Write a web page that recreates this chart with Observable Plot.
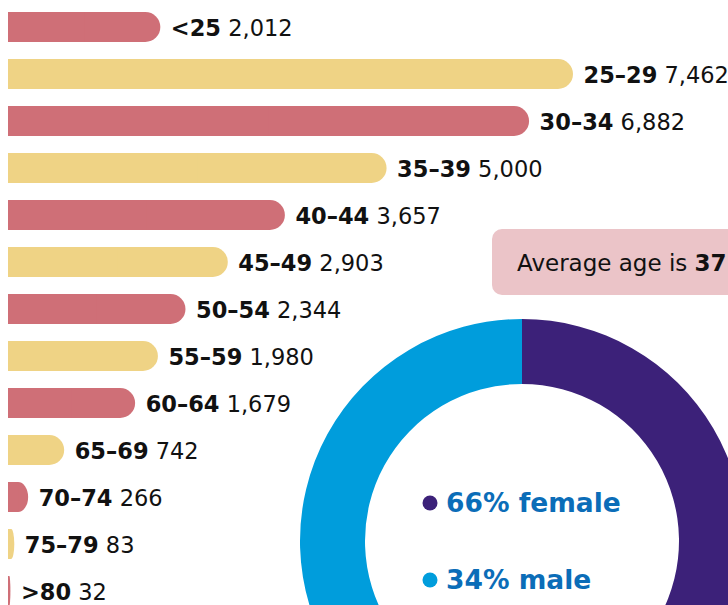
<!DOCTYPE html>
<html>
<head>
<meta charset="utf-8">
<script src="https://cdn.jsdelivr.net/npm/d3@7"></script>
<script src="https://cdn.jsdelivr.net/npm/@observablehq/plot@0.6"></script>
<style>
  html, body { margin: 0; padding: 0; background: #fff; overflow: hidden; }
  svg { display: block; }
</style>
</head>
<body>
<div id="chart"></div>
<script>
// ---- data ----
const ageGroups = ["<25", "25–29", "30–34", "35–39", "40–44", "45–49", "50–54", "55–59", "60–64", "65–69", "70–74", "75–79", ">80"];
const ageCounts = [2012, 7462, 6882, 5000, 3657, 2903, 2344, 1980, 1679, 742, 266, 83, 32];
const genderLabels = ["female", "male"];
const genderShares = [66, 34];
const averageAge = 37;

// ---- styles ----
const RED = "#CF6F77";
const YELLOW = "#EFD385";
const PURPLE = "#3C2179";
const LIGHTBLUE = "#009DDC";
const TEXTBLUE = "#0B6DB8";
const FONT = "'DejaVu Sans', Inter, sans-serif";

const rows = ageGroups.map((age, i) => ({age, count: ageCounts[i]}));
const fmt = d3.format(",");
const barFill = d => (ageGroups.indexOf(d.age) % 2 ? YELLOW : RED);

const genderData = genderLabels.map((g, i) => ({gender: g, share: genderShares[i]}));
const genderColor = {female: PURPLE, male: LIGHTBLUE};

function donutMark() {
  const g = d3.create("svg:g").attr("transform", "translate(522,541)");
  const pie = d3.pie().sort(null).value(d => d.share)(genderData);
  const arc = d3.arc().innerRadius(157).outerRadius(222);
  g.selectAll("path").data(pie).join("path")
    .attr("d", arc)
    .attr("fill", d => genderColor[d.data.gender]);
  // legend inside
  const leg = g.selectAll("g.leg").data(genderData).join("g")
    .attr("transform", (d, i) => `translate(-92,${-29 + i * 77})`);
  leg.append("circle").attr("r", 7.5).attr("cy", -9).attr("fill", d => genderColor[d.gender]);
  leg.append("text").attr("x", 16).attr("fill", TEXTBLUE).attr("text-anchor", "start")
    .attr("font-family", FONT).attr("font-weight", 700).attr("font-size", 26.5)
    .text(d => `${d.share}% ${d.gender}`);
  return g.node();
}

function calloutMark() {
  const g = d3.create("svg:g");
  g.append("rect").attr("x", 492).attr("y", 229).attr("width", 300).attr("height", 66)
    .attr("rx", 10).attr("fill", "#EBC4C8");
  const t = g.append("text").attr("x", 517).attr("y", 271).attr("text-anchor", "start")
    .attr("font-family", FONT).attr("font-size", 23).attr("fill", "#111");
  t.append("tspan").attr("font-weight", 400).text("Average age is ");
  t.append("tspan").attr("font-weight", 700).text(averageAge);
  return g.node();
}

const chart = Plot.plot({
  width: 728,
  height: 605,
  margin: 0,
  style: {background: "#fff", fontFamily: FONT},
  x: {domain: [0, 7462], range: [8, 573], axis: null},
  y: {domain: ageGroups, range: [-6.2, 624.2], padding: 0.364, axis: null},
  marks: [
    Plot.barX(rows, {x: "count", y: "age", fill: barFill, rx: 15}),
    Plot.barX(rows, {x: d => d.count / 2, y: "age", fill: barFill}),
    Plot.text(rows, {
      x: "count", y: "age", dx: 10, dy: 1, textAnchor: "start",
      text: d => `${d.age} ${fmt(d.count)}`,
      fontSize: 22.5, fill: "#111"
    }),
    calloutMark,
    donutMark
  ]
});

// split each label into a bold age group and a regular value
d3.select(chart).selectAll('g[aria-label="text"] text').each(function () {
  const s = this.textContent;
  const k = s.lastIndexOf(" ");
  const sel = d3.select(this);
  sel.text(null);
  sel.append("tspan").attr("font-weight", 700).text(s.slice(0, k));
  sel.append("tspan").attr("font-weight", 400).text(" " + s.slice(k + 1));
});

document.getElementById("chart").appendChild(chart);
</script>
</body>
</html>
